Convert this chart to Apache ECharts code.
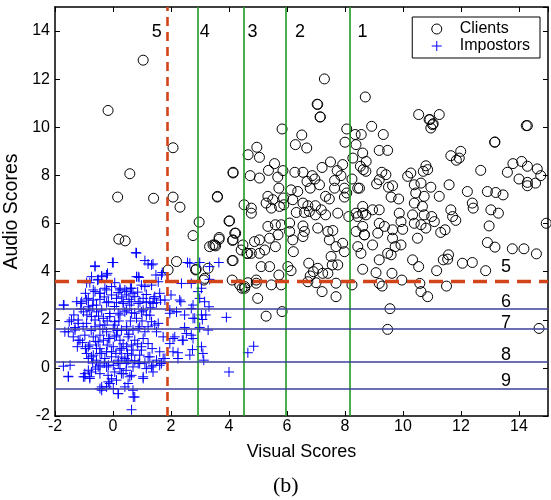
<!DOCTYPE html>
<html>
<head>
<meta charset="utf-8">
<script src="https://cdn.jsdelivr.net/npm/echarts@6/dist/echarts.min.js"></script>
<style>html,body{margin:0;padding:0;background:#fff}#c{width:551px;height:500px}</style>
</head>
<body>
<div id="c"></div>
<script>
// ---- data ----
var xTicks = [-2, 0, 2, 4, 6, 8, 10, 12, 14];
var yTicks = [-2, 0, 2, 4, 6, 8, 10, 12, 14];
var greenLinesX = [2.93, 4.5, 5.95, 8.15];
var blueLinesY = [2.47, 1.63, 0.24, -0.88];
var redDashX = [1.86];
var redDashY = [3.61];
var topLabels = [["5", 1.51, 13.95], ["4", 3.16, 13.95], ["3", 4.81, 13.95], ["2", 6.45, 13.95], ["1", 8.6, 13.95]];
var rightLabels = [["5", 13.55, 4.2], ["6", 13.55, 2.74], ["7", 13.55, 1.86], ["8", 13.55, 0.53], ["9", 13.55, -0.54]];

var clients = [
[1.04,12.79],[-0.17,10.7],[2.07,9.15],[0.58,8.07],[0.16,7.1],[1.4,7.05],[2.07,7.1],[2.31,6.68],[3.6,7.1],[4.14,8.1],
[2.97,6.06],[4.0,6.1],[4.2,5.6],[2.76,5.5],[3.66,5.35],[4.12,5.3],[0.2,5.35],[0.42,5.28],
[7.04,10.96],[7.15,10.43],[5.83,9.93],[6.51,9.68],[6.29,9.28],[6.68,9.14],[8.06,9.93],[8.35,9.7],[8.56,9.7],[8.0,9.38],
[8.38,9.28],[4.96,9.17],[4.66,8.86],[5.05,8.75],[8.61,8.93],[8.27,8.72],[7.5,8.56],[7.21,8.33],[7.92,8.45],[7.73,8.2],
[5.57,8.49],[5.36,8.21],[5.86,8.2],[4.14,8.13],[6.27,8.13],[6.55,8.13],[6.87,7.99],[4.73,7.99],[5.05,7.89],[5.68,7.93],
[6.69,7.75],[7.64,7.79],[7.86,7.99],[8.24,7.85],[8.53,8.38],[8.72,8.17],[6.96,7.85],[6.8,7.47],[7.12,7.61],[5.72,7.47],
[6.14,7.4],[7.64,7.47],[7.98,7.47],[8.44,7.47],[3.6,7.13],[5.34,7.13],[5.51,6.99],[5.88,7.06],[6.2,6.99],[6.37,7.33],
[7.33,7.13],[7.46,7.02],[7.98,7.1],[8.06,7.27],[5.28,6.85],[5.46,6.64],[4.52,6.78],[4.77,6.64],[4.77,6.43],[5.74,6.71],
[5.89,6.78],[6.55,6.85],[6.72,6.74],[6.98,6.74],[6.77,6.5],[6.98,6.36],[6.32,6.46],[6.6,6.46],[7.18,6.57],[7.33,6.36],
[7.75,6.43],[8.13,6.29],[8.38,6.43],[8.44,6.29],[8.61,6.71],[8.72,6.36],[4.02,6.11],[3.45,5.11],[3.54,5.07],[3.66,5.42],
[4.23,5.6],[4.14,5.32],[4.48,5.11],[4.62,4.76],[4.88,5.25],[5.05,5.32],[5.34,5.88],[5.6,5.95],[5.8,5.95],[5.69,5.53],
[5.4,5.39],[5.6,5.04],[5.23,4.9],[5.05,4.76],[4.77,4.76],[6.09,6.02],[6.09,5.67],[6.2,5.32],[6.22,4.83],[6.55,5.9],
[6.6,5.67],[6.55,5.46],[7.06,5.81],[7.41,5.67],[7.58,5.71],[7.46,5.32],[7.69,5.04],[7.92,5.18],[7.98,4.83],[8.44,5.04],
[8.55,4.76],[8.38,5.67],[8.67,5.53],[4.11,4.46],[5.11,4.21],[5.4,4.21],[5.72,3.86],[6.03,4.21],[6.14,4.04],[6.75,4.35],
[6.8,3.82],[6.91,4.0],[7.06,4.14],[7.23,3.93],[7.41,3.93],[7.56,4.28],[7.75,4.28],[7.52,4.63],[8.61,4.1],[2.85,4.07],
[3.16,3.72],[4.11,3.65],[4.54,3.38],[4.65,3.54],[4.94,3.52],[5.46,3.45],[5.8,3.45],[6.72,3.58],[7.0,3.54],[7.69,3.52],
[8.24,3.45],[7.21,3.17],[7.69,2.96],[4.99,2.89],[5.28,2.15],[5.83,2.34],[4.45,3.31],
[10.54,10.53],[10.9,10.32],[11.25,10.53],[11.04,10.15],[10.96,9.97],[8.92,10.04],[14.29,10.07],[9.32,9.7],[9.18,9.04],[9.47,9.04],
[13.17,9.39],[8.73,8.58],[11.65,8.82],[11.84,8.63],[11.99,9.0],[11.94,8.72],[8.63,8.24],[9.27,8.13],[9.41,8.03],[9.18,7.82],
[9.09,7.65],[9.5,7.51],[9.64,7.57],[10.16,7.96],[10.27,8.1],[10.79,8.4],[10.85,8.24],[10.7,8.17],[12.68,8.21],[13.6,8.13],
[13.79,8.49],[14.09,8.58],[14.29,8.38],[14.63,8.27],[14.75,7.99],[14.0,7.85],[14.29,7.71],[14.29,7.57],[14.57,7.68],[8.5,7.47],
[9.59,7.1],[9.85,7.02],[10.39,7.61],[10.62,7.68],[10.44,7.27],[10.73,7.13],[10.96,7.51],[11.25,7.13],[11.59,7.61],[12.22,7.33],
[12.91,7.33],[13.2,7.29],[13.45,7.19],[12.39,6.85],[12.42,6.64],[13.03,6.57],[13.29,6.43],[11.65,6.57],[11.71,6.29],[11.82,6.13],
[10.99,6.29],[11.08,6.08],[10.67,6.71],[10.73,6.36],[10.39,6.85],[10.33,6.36],[10.39,6.01],[10.62,5.95],[10.79,5.81],[10.5,5.39],
[9.87,6.43],[9.93,6.08],[9.99,5.76],[9.18,6.57],[8.95,6.57],[9.18,6.01],[9.36,5.88],[9.13,5.6],[9.64,5.74],[9.64,5.39],
[8.61,6.43],[8.61,5.88],[8.67,5.53],[8.95,5.11],[9.93,5.11],[9.73,5.04],[9.47,4.76],[9.18,4.49],[9.59,4.7],[11.3,5.63],
[11.45,5.74],[12.97,5.9],[12.91,5.21],[13.17,5.02],[13.77,4.95],[14.17,4.95],[14.6,4.74],[10.33,4.49],[10.54,4.21],[11.16,4.04],
[11.39,4.49],[11.57,4.7],[11.54,4.52],[12.05,4.35],[12.39,4.38],[12.85,4.04],[9.07,3.96],[9.62,3.93],[9.96,3.65],[9.18,3.51],
[9.28,3.4],[10.58,3.51],[10.62,3.17],[10.85,2.96],[11.5,3.4],[14.94,6.01],[9.55,2.46],[9.47,1.6],[14.69,1.64],
[7.29,12.01],[7.06,10.95],[7.14,10.43],[8.7,11.26],[10.93,10.32],[11.02,10.11],[14.25,10.07],[13.16,9.38],
[2.19,4.42],[2.87,4.1],[3.28,4.14],[3.13,3.65],[1.9,4.07],[3.33,5.04],[3.51,5.11],[4.14,4.46],[4.37,3.45],[4.54,3.31],
[4.94,3.65],[4.42,4.9],[4.65,4.76]
];

var impostors = [
[0.79,4.79],[0.01,4.38],[-0.62,4.24],[1.1,4.46],[1.21,4.32],[1.38,4.32],[1.48,3.86],[1.7,3.96],[0.81,3.79],[0.9,3.76],
[-0.19,3.93],[-0.39,3.82],[-0.51,3.68],[-0.74,3.79],[-0.91,3.54],[0.06,3.54],[0.24,3.31],[0.41,3.24],[0.6,3.31],[0.69,3.1],
[0.47,3.03],[0.18,3.13],[-0.05,3.03],[-0.22,3.24],[-0.45,3.1],[-0.62,3.17],[-0.85,2.89],[-1.08,2.75],[-1.25,2.75],[-1.69,2.61],
[-0.68,2.82],[-0.45,2.85],[-0.22,2.71],[0.12,2.71],[0.35,2.68],[0.64,2.75],[0.93,2.75],[1.15,2.71],[1.41,2.89],[1.64,2.82],
[1.5,2.71],[1.61,3.1],[1.33,3.44],[0.98,3.44],[1.1,3.38],[2.0,3.03],[2.36,3.51],[2.57,4.38],[2.99,4.38],[3.33,4.21],
[3.65,4.38],[3.33,3.68],[2.7,3.51],[2.93,3.17],[3.05,3.31],[3.16,2.75],[3.31,2.54],[2.76,2.61],[2.99,2.89],[2.3,2.82],
[1.96,2.4],[2.19,2.33],[2.47,2.2],[2.76,2.06],[3.08,2.01],[3.2,2.2],[3.91,2.1],[2.99,1.68],[3.28,1.57],[2.47,1.68],
[2.39,1.15],[2.7,1.36],[2.07,1.22],[1.96,1.01],[1.73,1.29],[1.5,1.5],[2.24,0.63],[2.74,0.76],[3.1,0.6],[3.13,0.32],
[4.65,0.63],[4.85,0.9],[4.0,-0.17],[-1.71,0.07],[-1.54,-0.35],[-1.66,1.5],[-1.51,1.92],[-1.35,2.2],[-1.31,1.68],[-1.2,1.99],
[-1.37,1.29],[-1.14,1.15],[-1.23,0.88],[-0.97,1.36],[-0.91,1.85],[-1.02,2.33],[-0.8,2.4],[-0.57,2.33],[-0.62,1.99],[-0.45,1.78],
[-0.33,2.06],[-0.11,2.26],[0.06,1.92],[0.24,2.2],[0.41,2.33],[0.64,2.29],[0.81,2.06],[0.98,2.33],[1.15,2.2],[1.33,1.92],
[1.44,1.78],[0.92,1.71],[0.69,1.57],[0.47,1.71],[0.29,1.57],[0.01,1.64],[-0.22,1.5],[-0.45,1.36],[-0.68,1.29],[-0.8,0.95],
[-0.57,0.81],[-0.33,1.15],[-0.11,1.22],[0.06,1.29],[0.24,1.15],[0.52,1.29],[0.75,1.15],[1.04,1.22],[1.21,1.01],[0.98,0.88],
[0.69,0.74],[0.47,0.88],[0.24,0.74],[0.01,0.88],[-0.22,0.67],[-0.45,0.6],[-0.68,0.53],[-0.91,0.6],[-0.85,0.39],[-0.57,0.32],
[-0.28,0.39],[-0.05,0.46],[0.18,0.32],[0.41,0.39],[0.64,0.53],[0.92,0.53],[1.27,0.46],[1.5,0.32],[1.73,0.39],[1.61,0.67],
[1.38,0.11],[1.61,0.11],[1.15,-0.03],[0.92,0.18],[0.69,0.04],[0.47,0.18],[0.24,-0.03],[0.01,0.11],[-0.22,0.04],[-0.45,0.11],
[-0.97,-0.24],[-0.8,-0.37],[-1.02,-0.37],[-0.74,-0.17],[-0.45,-0.24],[-0.17,-0.31],[0.06,-0.17],[0.35,-0.24],[0.64,-0.31],[1.04,-0.37],
[1.38,-0.17],[0.12,-0.51],[-0.11,-0.65],[-0.22,-0.79],[-0.39,-0.93],[-0.45,-0.86],[0.01,-0.86],[0.41,-0.79],[0.52,-0.65],[0.69,-0.93],
[0.18,-1.07],[0.75,-1.21],[0.64,-1.74],
[0.81,4.77],[-0.02,4.38],[-0.62,4.21],[1.33,4.28],[-0.22,3.86],[-0.39,3.79],[-0.53,3.65],[-0.8,3.54],[0.87,3.79],[1.56,3.58],
[1.67,3.86],[2.65,4.35],[-1.71,2.61],[-1.11,2.68],[-0.91,2.82],[-0.68,3.24],[-0.45,3.1],[-0.28,3.31],[-0.05,3.38],[0.24,3.24],
[0.47,3.17],[0.64,3.31],[0.75,2.96],[1.04,2.89],[1.27,2.75],[1.44,2.96],[1.38,2.68],[1.79,2.82],[1.96,2.27],[2.19,2.33],
[2.34,2.75],[2.7,2.47],[2.82,2.06],[3.05,2.2],[-1.43,1.99],[-1.31,1.57],[-1.54,1.5],[-1.2,1.15],[-1.48,0.11],[-1.54,-0.37],
[-0.97,-0.37],[-0.8,-0.44],[-0.39,-0.79],[0.18,-1.07],[0.7,-1.21],[1.04,-0.44],[1.33,0.04],[1.67,0.18],[1.79,0.39],[2.07,0.67],
[2.24,0.39],[2.65,0.53],[2.42,1.15],[2.13,1.29],[2.53,1.43],[2.76,1.22],[3.05,0.88],[1.56,1.85],[1.21,1.71],[0.87,1.64],
[0.47,1.57],[0.12,1.36],[-0.16,1.22],[-0.51,1.08],[-0.85,0.88],[-0.74,0.46],[-0.39,0.6],[-0.05,0.67],[0.29,0.81],[0.64,0.95],
[0.98,0.74],[1.21,0.46],[0.87,0.18],[0.52,0.32],[0.18,0.18],[-0.16,0.11],[-0.51,0.04],[-0.85,-0.1],[0.29,-0.24],[0.58,-0.37],
[-0.16,-0.58],[-0.39,2.4],[-0.11,2.13],[0.18,2.27],[0.47,2.4],[0.75,2.27],[1.04,2.4],[1.27,2.19],[-0.74,2.13],[-1.03,1.71],
[-0.62,1.71],[-0.28,1.78],[0.06,1.78],[-0.85,2.54],[-0.57,2.61],[-0.16,2.75],[0.12,2.89],[0.35,2.75],[0.58,2.61],[0.87,2.68],
[-0.95,3.1],[-0.7,2.6],[-0.3,2.95],[0.05,2.55],[0.3,2.95],[0.55,2.85],[0.85,3.15],[1.15,3.05],[1.3,2.5],[-1.1,2.45],
[-0.9,2.2],[-0.5,2.15],[-0.2,1.95],[0.2,1.95],[0.6,1.95],[1.0,1.95],[-1.2,1.85],[-0.75,1.55],[-0.35,1.6],[0.15,1.55],
[0.55,1.4],[1.1,1.5],[-1.05,1.05],[-0.6,1.1],[-0.2,0.95],[0.35,1.0],[0.85,1.0],[1.35,0.8],[-0.95,0.8],[-0.45,0.8],
[0.1,0.6],[0.5,0.6],[-0.7,0.2],[-0.3,0.2],[0.3,0.45],[0.75,0.3],[1.1,0.2],[-0.6,-0.05],[0.45,-0.1],[-0.05,-0.45]
];

// ---- chart ----
var FONT = '"Liberation Sans", Arial, sans-serif';
var chart = echarts.init(document.getElementById('c'), null, {renderer: 'canvas'});
var PLUS = 'path://M5,0 L5,10 M0,5 L10,5';

function axisCommon(extra, labelMargin) {
  var a = {
    min: -2, max: 15, interval: 2,
    axisLine: {show: true, onZero: false, lineStyle: {color: '#000', width: 1.5}},
    axisTick: {show: true, inside: true, length: 5, lineStyle: {color: '#000', width: 1}},
    splitLine: {show: false},
    axisLabel: {show: true, color: '#000', fontSize: 16, fontFamily: FONT, showMaxLabel: false, margin: labelMargin}
  };
  for (var k in extra) a[k] = extra[k];
  return a;
}

var markLines = [];
greenLinesX.forEach(function (v) { markLines.push({xAxis: v, lineStyle: {color: '#1e9a1e', width: 1.6, type: 'solid'}}); });
blueLinesY.forEach(function (v) { markLines.push({yAxis: v, lineStyle: {color: '#3e3e9a', width: 1.6, type: 'solid'}}); });
redDashX.forEach(function (v) { markLines.push({xAxis: v, lineStyle: {color: '#d2441a', width: 2.6, type: [9, 6]}}); });
redDashY.forEach(function (v) { markLines.push({yAxis: v, lineStyle: {color: '#d2441a', width: 3.4, type: [14, 8]}}); });

var textPts = topLabels.concat(rightLabels).map(function (t) { return {value: [t[1], t[2]], name: t[0]}; });

chart.setOption({
  animation: false,
  backgroundColor: '#fff',
  grid: {left: 55, top: 7, right: 3, bottom: 84, containLabel: false, outerBoundsMode: 'none'},
  legend: {
    right: 11, top: 17, orient: 'vertical',
    backgroundColor: '#fff', borderColor: '#000', borderWidth: 1,
    padding: [4, 10, 4, 19], itemGap: 1, itemWidth: 10, itemHeight: 10,
    textStyle: {color: '#000', fontSize: 16, fontFamily: FONT, padding: [0, 0, 0, 13]},
    data: [
      {name: 'Clients', icon: 'circle', itemStyle: {color: 'rgba(0,0,0,0)', borderColor: '#000', borderWidth: 1, opacity: 1}},
      {name: 'Impostors', icon: PLUS, itemStyle: {color: 'rgba(0,0,0,0)', borderColor: '#0000ff', borderWidth: 1, opacity: 1}}
    ]
  },
  xAxis: [
    axisCommon({type: 'value', position: 'bottom', name: 'Visual Scores', nameLocation: 'middle', nameGap: 27,
      nameTextStyle: {color: '#000', fontSize: 18, fontFamily: FONT}}, 3),
    axisCommon({type: 'value', position: 'top', axisLabel: {show: false}}, 3)
  ],
  yAxis: [
    axisCommon({type: 'value', position: 'left', name: 'Audio Scores', nameLocation: 'middle', nameGap: 30,
      nameTextStyle: {color: '#000', fontSize: 19.5, fontFamily: FONT}}, 5),
    axisCommon({type: 'value', position: 'right', axisLabel: {show: false}}, 5)
  ],
  graphic: [{
    type: 'text', left: 273, top: 475,
    style: {text: '(b)', fill: '#000', font: '22px "Liberation Serif", "Times New Roman", serif'}
  }],
  series: [
    {
      name: 'lines', type: 'scatter', data: [], silent: true, z: 1,
      markLine: {silent: true, symbol: ['none', 'none'], label: {show: false}, animation: false, data: markLines}
    },
    {
      name: 'Clients', type: 'scatter', data: clients, symbol: 'circle', symbolSize: 10, z: 3,
      itemStyle: {color: 'rgba(0,0,0,0)', borderColor: '#000', borderWidth: 1, opacity: 1}
    },
    {
      name: 'Impostors', type: 'scatter', data: impostors, symbol: PLUS, symbolSize: 10, z: 3,
      itemStyle: {color: 'rgba(0,0,0,0)', borderColor: '#0000ff', borderWidth: 1, opacity: 1}
    },
    {
      name: 'labels', type: 'scatter', data: textPts, symbolSize: 0, silent: true, z: 4,
      itemStyle: {opacity: 1},
      label: {show: true, position: 'inside', formatter: '{b}', color: '#000', fontSize: 18, fontFamily: FONT}
    }
  ]
});
</script>
</body>
</html>
